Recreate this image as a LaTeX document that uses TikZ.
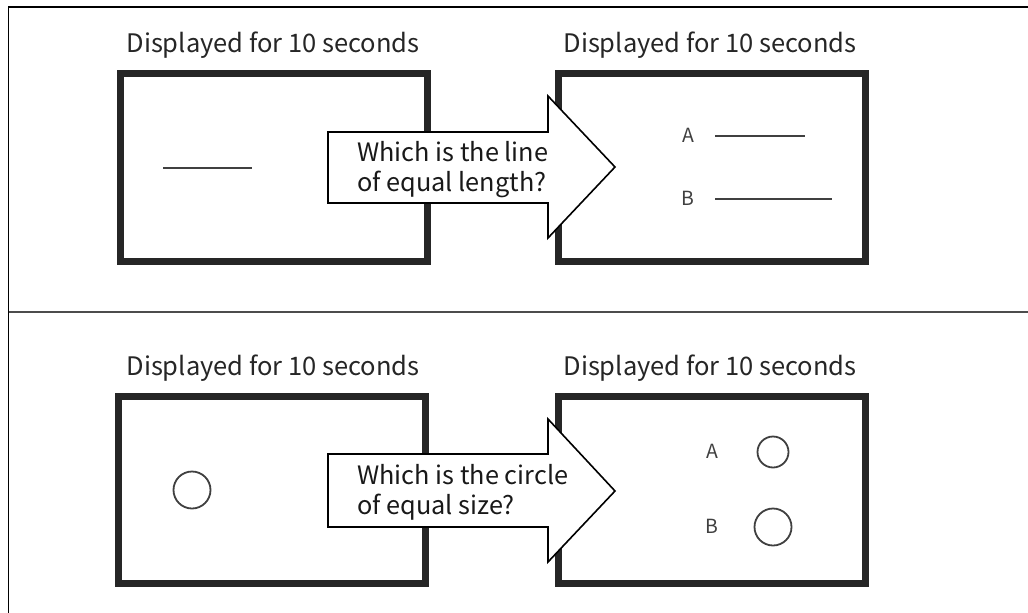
\documentclass[tikz,border=0pt]{standalone}
\usepackage{fontspec}
\newfontfamily\jpfont{Noto Sans CJK JP}
\begin{document}
\begin{tikzpicture}[x=1pt,y=-1pt,
  screen/.style={draw=black!85, line width=7pt, fill=white},
  title/.style={font=\jpfont\fontsize{25.5}{28}\selectfont, text=black!85, inner sep=0pt},
  question/.style={font=\jpfont\fontsize{25.3}{30}\selectfont, text=black!90, align=left, inner sep=0pt, anchor=west},
  bigarrow/.style={draw=black, line width=1.6pt, fill=white, line join=miter},
  stim/.style={draw=black!75, line width=1.8pt},
  lbl/.style={font=\jpfont\fontsize{19.5}{22}\selectfont, text=black!75, inner sep=0pt},
  frame/.style={line width=1.5pt}]
\useasboundingbox (0,0) rectangle (1028,613);
% outer frame
\draw[frame, draw=black] (1028,7) -- (8.5,7) -- (8.5,613);
\draw[frame, draw=black!70] (8.5,312) -- (1028,312);

% ---------- top panel ----------
\node[title] (t1) at (273,45) {Displayed for 10 seconds};
\node[title] (t2) at (710,45) {Displayed for 10 seconds};
\draw[screen] (120.5,73.5) rectangle (427,261);
\draw[screen] (558.5,73.5) rectangle (865,261);
\draw[stim] (163,168) -- (252,168);
\node[lbl] (a1) at (688,135) {A};
\node[lbl] (b1) at (688,198) {B};
\draw[stim] (715,136) -- (805,136);
\draw[stim] (715,199) -- (832,199);
\draw[bigarrow] (328,132) -- (548,132) -- (548,96) -- (615,167) -- (548,238) -- (548,203) -- (328,203) -- cycle;
\node[question] (q1) at (357,170) {Which is the line\\of equal length?};

% ---------- bottom panel ----------
\node[title] (t3) at (273,368) {Displayed for 10 seconds};
\node[title] (t4) at (710,368) {Displayed for 10 seconds};
\draw[screen] (118.5,396) rectangle (425,583);
\draw[screen] (558.5,396) rectangle (865,583);
\draw[stim] (192,490) circle (18.5);
\node[lbl] (a2) at (712,451) {A};
\node[lbl] (b2) at (712,526) {B};
\draw[stim] (773,452) circle (15.5);
\draw[stim] (773,527) circle (18.5);
\draw[bigarrow] (328,454) -- (548,454) -- (548,419) -- (615,491) -- (548,562) -- (548,527) -- (328,527) -- cycle;
\node[question] (q2) at (357,492) {Which is the circle\\of equal size?};
\end{tikzpicture}
\end{document}
